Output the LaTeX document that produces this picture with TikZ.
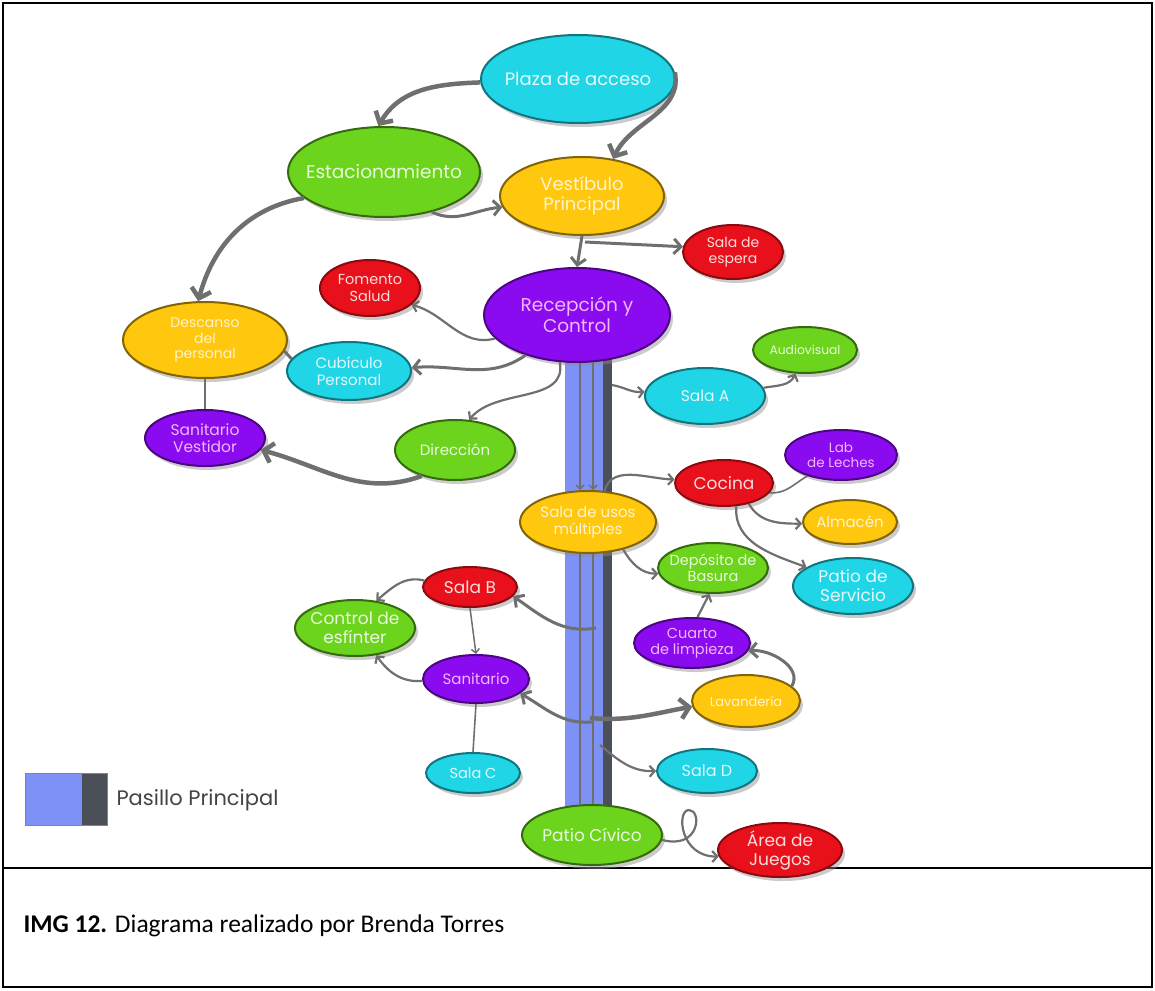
\documentclass[tikz,border=0pt]{standalone}
\usepackage{fontspec}
\usetikzlibrary{shapes.geometric,arrows.meta,shadows,calc}
\newfontfamily\dfont{Poppins}
\newfontfamily\capfont{Carlito}
\definecolor{cyanC}{HTML}{1FD5E6}
\definecolor{greenC}{HTML}{6CD41C}
\definecolor{yellowC}{HTML}{FFC70D}
\definecolor{redC}{HTML}{E8101A}
\definecolor{purpleC}{HTML}{8A0BEF}
\definecolor{congray}{HTML}{6F6F6F}
\definecolor{corrblue}{HTML}{7E92F6}
\definecolor{corrdark}{HTML}{4B4F57}
\definecolor{pinkT}{RGB}{242,182,250}
\definecolor{legT}{RGB}{68,68,68}
\newcommand{\fs}[1]{\dfont\fontsize{#1}{#1}\selectfont\setlength{\baselineskip}{1.12em}}
\tikzset{
  bub/.style={ellipse, inner xsep=-14pt, inner ysep=-6pt, line width=2pt, align=center,
    drop shadow={shadow xshift=3pt, shadow yshift=-4pt, fill=black!45, opacity=0.45}},
  cy/.style={bub, fill=cyanC, draw=cyanC!55!black, text=white!88!cyanC},
  gr/.style={bub, fill=greenC, draw=greenC!50!black, text=white!85!greenC},
  ye/.style={bub, fill=yellowC, draw=yellowC!50!black, text=white!80!yellowC},
  re/.style={bub, fill=redC, draw=redC!60!black, text=white!85!redC},
  pu/.style={bub, fill=purpleC, draw=purpleC!55!black, text=pinkT},
  sz/.style 2 args={minimum width=#1pt, minimum height=#2pt},
  conS/.style={draw=congray, line width=1.5pt, -{Straight Barb[length=4pt,width=8pt]}},
  con/.style={draw=congray, line width=2.2pt, -{Straight Barb[length=5pt,width=11pt]}},
  conM/.style={draw=congray, line width=3pt, -{Straight Barb[length=7pt,width=15pt]}},
  conT/.style={draw=congray, line width=4.5pt, -{Straight Barb[length=9pt,width=20pt]}},
  lnk/.style={draw=congray, line width=1.6pt},
}
\begin{document}
\begin{tikzpicture}[x=1pt,y=1pt]
\useasboundingbox (0,0) rectangle (1155,-990);
% frame
\draw[line width=1.4pt] (3,-3) rectangle (1152,-987);
\draw[line width=1.4pt] (3,-868) -- (1152,-868);
% corridor
\fill[corrblue] (565,-335) rectangle (603,-830);
\fill[corrdark] (603,-335) rectangle (612,-830);
% legend
\fill[corrblue] (25,-773) rectangle (82,-825);
\fill[corrdark] (82,-773) rectangle (107,-825);
\draw[corrdark!70, line width=0.8pt] (25,-773) rectangle (107,-825);
\node[anchor=west, text=legT, font=\fs{21}] (legend) at (113,-800) {Pasillo Principal};
% caption
\node[anchor=west, font=\capfont\fontsize{25.5}{30}\selectfont] (caption) at (20,-926) {\textbf{IMG 12.} Diagrama realizado por Brenda Torres};

% nodes
\node[cy, sz={194}{88}, font=\fs{18}] (plaza) at (578,-79) {Plaza de acceso};
\node[gr, sz={192}{90}, font=\fs{18.5}] (estac) at (384,-172) {Estacionamiento};
\node[ye, sz={164}{78}, font=\fs{18}] (vest) at (582,-196) {Vestíbulo\\Principal};
\node[re, sz={100}{54}, font=\fs{14}] (espera) at (733,-252) {Sala de\\espera};
\node[re, sz={100}{56}, font=\fs{14.5}] (fomento) at (370,-288) {Fomento\\Salud};
\node[pu, sz={186}{94}, font=\fs{18.5}] (recep) at (577,-315) {Recepción y\\Control};
\node[ye, sz={164}{76}, font=\fs{14}] (descanso) at (205,-340) {Descanso\\del\\personal};
\node[cy, sz={124}{58}, font=\fs{15}] (cubiculo) at (349,-371) {Cubículo\\Personal};
\node[pu, sz={120}{56}, font=\fs{15.5}] (sanvest) at (205,-438) {Sanitario\\Vestidor};
\node[gr, sz={120}{60}, font=\fs{15}] (direccion) at (455,-450) {Dirección};
\node[cy, sz={120}{56}, font=\fs{15.5}] (salaA) at (705,-396) {Sala A};
\node[gr, sz={104}{46}, font=\fs{12.3}] (audio) at (805,-350) {Audiovisual};
\node[pu, sz={112}{50}, font=\fs{13.5}] (lab) at (841,-455) {Lab\\de Leches};
\node[re, sz={98}{46}, font=\fs{17}] (cocina) at (724,-483) {Cocina};
\node[ye, sz={94}{44}, font=\fs{15}] (almacen) at (850,-522) {Almacén};
\node[cy, sz={120}{56}, font=\fs{17}] (patioserv) at (853,-586) {Patio de\\Servicio};
\node[gr, sz={110}{50}, font=\fs{14.5}] (deposito) at (713,-568) {Depósito de\\Basura};
\node[ye, sz={136}{62}, font=\fs{15}] (sum) at (588,-522) {Sala de usos\\múltiples};
\node[pu, sz={116}{50}, font=\fs{14.5}] (cuarto) at (692,-643) {Cuarto\\de limpieza};
\node[ye, sz={108}{52}, font=\fs{13}] (lavand) at (746,-701) {Lavandería};
\node[cy, sz={100}{44}, font=\fs{16}] (salaD) at (707,-771) {Sala D};
\node[re, sz={94}{40}, font=\fs{17}] (salaB) at (470,-587) {Sala B};
\node[gr, sz={120}{56}, font=\fs{17}] (control) at (355,-628) {Control de\\esfínter};
\node[pu, sz={106}{48}, font=\fs{15}] (sanit) at (476,-679) {Sanitario};
\node[cy, sz={94}{40}, font=\fs{14.5}] (salaC) at (473,-773) {Sala C};
\node[gr, sz={140}{60}, font=\fs{17}] (civico) at (592,-835) {Patio Cívico};
\node[re, sz={124}{54}, font=\fs{17}] (juegos) at (780,-850) {Área de\\Juegos};

% corridor coordinates
\coordinate (cA) at (612,-385);
\coordinate (cB) at (596,-628);
\coordinate (cS) at (592,-722);
\coordinate (cL) at (590,-718);
\coordinate (cD) at (600,-745);

% connectors
\draw[conT] (plaza.182) to[out=182,in=60] (estac.97);
\draw[conT] (plaza.4) to[out=-80,in=65] (vest.50);
\draw[conM] (estac.-40) to[out=-25,in=185] (vest.188);
\draw[conT] (estac.198) to[out=190,in=75] (descanso.100);
\draw[conM] (vest.south) -- (recep.north);
\draw[conM] ($(vest.south)+(3,-6)$) -- (espera.174);
\draw[con] (recep.196) to[out=195,in=-15] (fomento.-22);
\draw[conM] (recep.218) to[out=215,in=5] (cubiculo.3);
\draw[lnk, line width=3pt] (cubiculo.168) -- (descanso.-8);
\draw[lnk] (descanso.south) -- (sanvest.north);
\draw[con] (recep.-110) to[out=-80,in=50] (direccion.65);
\draw[conT] (direccion.218) to[out=200,in=-15] (sanvest.-12);
\draw[con] (cA) to[out=-10,in=185] (salaA.176);
\draw[con] (salaA.8) to[out=10,in=-115] (audio.-112);
\draw[con] (sum.62) to[out=75,in=178] (cocina.176);
\draw[lnk] (cocina.-12) to[out=-5,in=-150] (lab.-148);
\draw[con] (cocina.-40) to[out=-60,in=180] (almacen.182);
\draw[con] (cocina.-62) to[out=-95,in=160] (patioserv.158);
\draw[con] (sum.-38) to[out=-60,in=180] (deposito.186);
\draw[con] (cuarto.78) -- (deposito.-98);
\draw[conM] (lavand.18) to[out=60,in=5] (cuarto.-8);
\draw[conT] (cL) to[out=-5,in=190] (lavand.186);
\draw[conM] (cS) to[out=185,in=-30] (sanit.-18);
\draw[conM] (cB) to[out=190,in=-35] (salaB.-12);
\draw[con] (cD) to[out=-40,in=182] (salaD.180);
\draw[con] (salaB.172) to[out=165,in=40] (control.52);
\draw[conS] (salaB.south) -- (sanit.north);
\draw[con] (sanit.182) to[out=185,in=-55] (control.-52);
\draw[lnk] (sanit.south) -- (salaC.north);
\draw[conS] ($(recep.south)+(3,0)$) -- ($(sum.north)+(-8,0)$);
\draw[conS] ($(recep.south)+(16,0)$) -- ($(sum.north)+(5,0)$);
\draw[lnk] ($(sum.south)+(-8,0)$) -- ($(civico.north)+(-12,0)$);
\draw[lnk] ($(sum.south)+(5,0)$) -- ($(civico.north)+(1,0)$);
\draw[con] (civico.-4) .. controls (700,-850) and (702,-810) .. (689,-810)
  .. controls (676,-810) and (680,-857) .. (juegos.186);
\end{tikzpicture}
\end{document}
